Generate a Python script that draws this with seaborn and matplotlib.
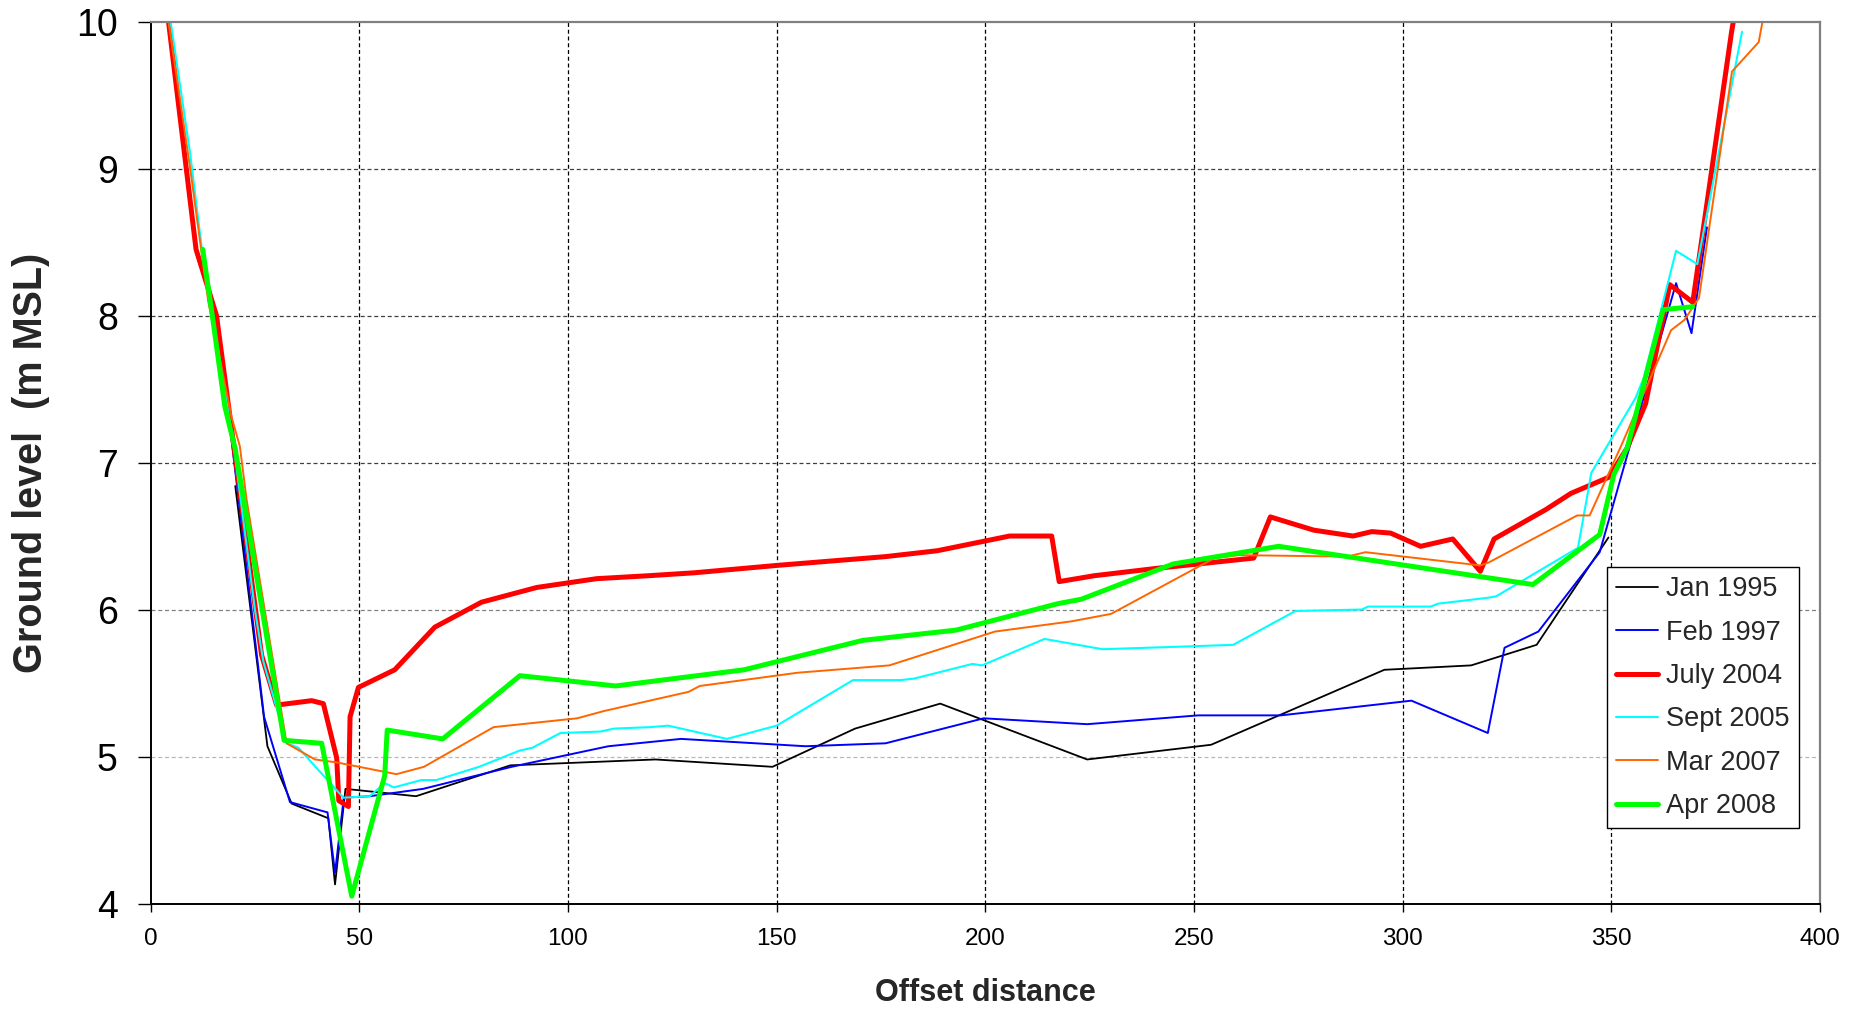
import matplotlib
matplotlib.use("Agg")
import matplotlib.pyplot as plt
import seaborn as sns

# Cross-section surveys: offset distance (m) and ground level (m MSL)
jan1995_x = [20.3, 28.0, 33.8, 42.6, 44.2, 46.7, 63.6, 86.2, 121.0, 149.0, 168.8, 189.2,
             224.4, 254.1, 295.6, 316.4, 332.1, 349.3]
jan1995_y = [6.84, 5.07, 4.68, 4.58, 4.13, 4.78, 4.73, 4.94, 4.98, 4.93, 5.19, 5.36,
             4.98, 5.08, 5.59, 5.62, 5.76, 6.49]

feb1997_x = [18.6, 27.2, 33.4, 42.4, 44.2, 46.3, 52.5, 65.3, 86.5, 109.7, 127.1, 156.9,
             176.1, 199.6, 224.4, 251.0, 270.8, 302.1, 320.4, 324.4, 332.5, 347.2, 365.5,
             369.2, 372.9]
feb1997_y = [7.35, 5.27, 4.69, 4.62, 4.21, 4.72, 4.73, 4.78, 4.93, 5.07, 5.12, 5.07,
             5.09, 5.26, 5.22, 5.28, 5.28, 5.38, 5.16, 5.74, 5.85, 6.39, 8.22,
             7.88, 8.60]

jul2004_x = [4.3, 10.9, 15.8, 26.6, 30.2, 38.6, 41.4, 44.6, 45.1, 47.4, 47.8, 49.8, 58.5,
             68.1, 79.3, 92.5, 106.9, 119.3, 130.3, 150.0, 176.1, 188.5, 205.8, 215.9,
             217.7, 226.1, 241.0, 264.3, 268.3, 278.7, 288.1, 292.6, 297.1, 304.3, 312.0,
             318.6, 321.9, 334.3, 340.3, 349.4, 353.8, 358.2, 364.0, 369.5, 378.8, 380.0]
jul2004_y = [10.0, 8.45, 8.00, 5.69, 5.35, 5.38, 5.36, 4.99, 4.70, 4.66, 5.27, 5.47, 5.59,
             5.88, 6.05, 6.15, 6.21, 6.23, 6.25, 6.30, 6.36, 6.40, 6.50, 6.50,
             6.19, 6.23, 6.28, 6.35, 6.63, 6.54, 6.50, 6.53, 6.52, 6.43, 6.48,
             6.26, 6.48, 6.68, 6.79, 6.90, 7.10, 7.40, 8.21, 8.09, 9.93, 10.13]

sep2005_x = [4.8, 9.5, 12.3, 20.0, 25.0, 27.0, 32.6, 35.4, 46.2, 52.5, 56.1, 58.3, 64.9,
             68.5, 78.7, 88.4, 91.5, 98.2, 107.8, 111.0, 119.7, 124.0, 138.1, 150.0,
             168.3, 179.7, 182.9, 196.9, 199.2, 214.2, 228.1, 249.5, 259.4, 274.3, 290.2,
             291.7, 306.7, 308.5, 320.4, 322.4, 342.0, 345.2, 355.8, 357.8, 365.5, 370.6,
             381.3]
sep2005_y = [10.0, 9.10, 8.45, 7.10, 6.00, 5.65, 5.09, 5.06, 4.72, 4.73, 4.82, 4.79, 4.84,
             4.84, 4.93, 5.04, 5.06, 5.16, 5.17, 5.19, 5.20, 5.21, 5.12, 5.21,
             5.52, 5.52, 5.53, 5.63, 5.62, 5.80, 5.73, 5.75, 5.76, 5.99, 6.00,
             6.02, 6.02, 6.04, 6.08, 6.09, 6.42, 6.93, 7.44, 7.58, 8.44, 8.35,
             9.93]

mar2007_x = [4.3, 9.5, 13.8, 19.4, 21.4, 23.0, 32.6, 39.4, 44.6, 58.9, 65.5, 82.2, 102.2,
             108.7, 128.9, 131.6, 155.0, 177.0, 202.3, 220.7, 230.1, 254.9, 260.9, 286.7,
             291.1, 318.6, 320.6, 341.8, 344.8, 352.6, 364.3, 367.5, 371.0, 378.9, 385.3,
             387.0]
mar2007_y = [10.0, 9.00, 8.10, 7.31, 7.11, 6.75, 5.09, 4.98, 4.96, 4.88, 4.93, 5.20, 5.26,
             5.31, 5.44, 5.48, 5.57, 5.62, 5.85, 5.92, 5.97, 6.35, 6.37, 6.36,
             6.39, 6.30, 6.32, 6.64, 6.64, 7.13, 7.90, 7.97, 8.12, 9.66, 9.86,
             10.12]

apr2008_x = [12.5, 14.7, 17.8, 20.3, 32.0, 41.0, 48.2, 56.1, 56.7, 70.0, 88.5, 111.4,
             142.2, 170.6, 193.0, 217.4, 223.0, 245.0, 270.3, 331.2, 347.2, 350.6, 353.8,
             362.4, 369.5]
apr2008_y = [8.45, 8.02, 7.38, 7.09, 5.11, 5.09, 4.05, 4.87, 5.18, 5.12, 5.55, 5.48,
             5.59, 5.79, 5.86, 6.04, 6.07, 6.31, 6.43, 6.17, 6.51, 6.92, 7.10,
             8.04, 8.06]

series_labels = ["Jan 1995", "Feb 1997", "July 2004", "Sept 2005", "Mar 2007", "Apr 2008"]
x_ticks = [0, 50, 100, 150, 200, 250, 300, 350, 400]
y_ticks = [4, 5, 6, 7, 8, 9, 10]

surveys = [
    (jan1995_x, jan1995_y, "#000000", 1.3),
    (feb1997_x, feb1997_y, "#0000FF", 1.4),
    (jul2004_x, jul2004_y, "#FF0000", 3.6),
    (sep2005_x, sep2005_y, "#00FFFF", 1.5),
    (mar2007_x, mar2007_y, "#FF6600", 1.4),
    (apr2008_x, apr2008_y, "#00FF00", 3.6),
]

sns.set_style("white")
plt.rcParams["font.family"] = ["Liberation Sans", "DejaVu Sans"]

fig = plt.figure(figsize=(18.61, 10.11), dpi=100)
ax = fig.add_axes([0.0809, 0.1063, 0.8971, 0.8724])

for (xs, ys, color, lw), label in zip(surveys, series_labels):
    sns.lineplot(x=xs, y=ys, color=color, linewidth=lw, label=label,
                 sort=False, estimator=None, ax=ax,
                 solid_joinstyle="round", solid_capstyle="round")

ax.set_xlim(0, 400)
ax.set_ylim(4, 10)
ax.set_xticks(x_ticks)
ax.set_yticks(y_ticks)

# dashed grid: black verticals, grey horizontals
ax.set_axisbelow(True)
ax.grid(True, axis="x", color="black", linestyle=(0, (3.2, 2.2)), linewidth=0.9)
ax.grid(True, axis="y", color="#404040", linestyle=(0, (3.2, 2.2)), linewidth=0.9)
xgl = ax.xaxis.get_gridlines()
xgl[0].set_visible(False)
xgl[-1].set_visible(False)
ygl = ax.yaxis.get_gridlines()
ygl[0].set_visible(False)
ygl[-1].set_visible(False)
ygl[1].set_color("#b8b8b8")
ygl[2].set_color("#808080")

for side in ("left", "bottom"):
    ax.spines[side].set_color("black")
    ax.spines[side].set_linewidth(1.4)
for side in ("top", "right"):
    ax.spines[side].set_color("#808080")
    ax.spines[side].set_linewidth(1.6)

ax.tick_params(axis="y", left=True, direction="out", length=9.5, width=1.0,
               labelsize=27, pad=14, colors="black")
ax.tick_params(axis="x", bottom=True, direction="out", length=5.8, width=1.0,
               labelsize=17.5, pad=12, colors="black")

ax.set_xlabel("Offset distance", fontsize=22, fontweight="bold")
ax.set_ylabel("Ground level  (m MSL)", fontsize=28.5, fontweight="bold")
ax.xaxis.set_label_coords(0.5, -0.1015)
ax.xaxis.label.set_va("center")
ax.yaxis.set_label_coords(-0.0719, 0.5)
ax.yaxis.label.set_va("center")

leg = ax.legend(loc="lower left", bbox_to_anchor=(0.8724, 0.0856), borderaxespad=0,
                frameon=True, fancybox=False, edgecolor="black", facecolor="white",
                framealpha=1, fontsize=19.5, handlelength=1.55, handletextpad=0.3,
                labelspacing=0.64, borderpad=0.33)
leg.get_frame().set_linewidth(1.0)

fig.savefig("out.png", dpi=100, facecolor="white")
